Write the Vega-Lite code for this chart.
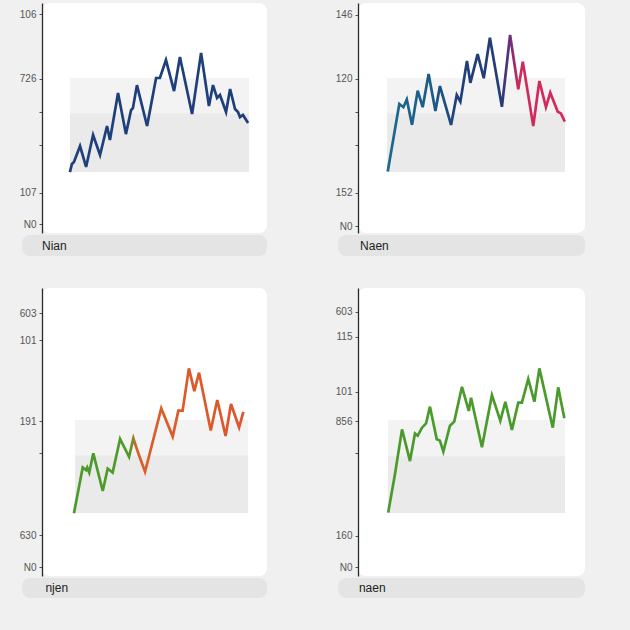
{
  "$schema": "https://vega.github.io/schema/vega-lite/v6.json",
  "background": "#f0f0f0",
  "padding": {"left": 19, "top": 3, "right": 45, "bottom": 32},
  "columns": 2,
  "bounds": "flush",
  "align": "each",
  "spacing": {"row": 55, "column": 91},
  "config": {
    "view": {"stroke": null},
    "axis": {"domainColor": "#2a2a2a", "domainWidth": 1.3, "tickColor": "#555", "tickSize": 3, "labelColor": "#555", "labelFont": "Liberation Sans", "labelFontSize": 10, "labelPadding": 3, "grid": false, "title": null, "labelOverlap": false}
  },
  "concat": [
    {
      "width": 225, "height": 230,
      "view": {"fill": "white", "stroke": null, "cornerRadius": 8},
      "encoding": {
        "x": {"field": "t", "type": "quantitative", "scale": {"domain": [0, 100], "nice": false, "zero": false}, "axis": null},
        "y": {"field": "v", "type": "quantitative", "scale": {"domain": [0, 100], "nice": false, "zero": false},
          "axis": {"values": [95.2, 67, 52.6, 38.3, 17.4, 3.9], "labelExpr": "datum.value == 95.2 ? '106' : datum.value == 67 ? '726' : datum.value == 17.4 ? '107' : datum.value == 3.9 ? 'N0' : ''"}}
      },
      "layer": [
        {"data": {"values": [{"t": 12.4, "t2": 92, "v": 52.2, "v2": 67.4, "tone": "upper"}, {"t": 12.4, "t2": 92, "v": 26.5, "v2": 52.2, "tone": "lower"}]},
         "mark": "rect",
         "encoding": {"x2": {"field": "t2"}, "y2": {"field": "v2"}, "color": {"field": "tone", "type": "nominal", "scale": {"domain": ["upper", "lower"], "range": ["#f3f3f3", "#eaeaea"]}, "legend": null}}},
        {"data": {"values": [{"t": 12.4, "t2": 92, "v": 52.2, "kind": "edge"}, {"t": 12.4, "t2": 92, "v": 37.4, "kind": "mid"}]},
         "mark": {"type": "rule", "strokeWidth": 1},
         "encoding": {"x2": {"field": "t2"}, "color": {"field": "kind", "type": "nominal", "scale": {"domain": ["edge", "mid"], "range": ["#fbfbfb", "#f4f4f4"]}, "legend": null}}},
        {"data": {"values": [{"t": -8.9, "t2": 100, "v": -0.9, "v2": -10}]},
         "mark": {"type": "rect", "color": "#e4e4e4", "cornerRadius": 8},
         "encoding": {"x2": {"field": "t2"}, "y2": {"field": "v2"}}},
        {"data": {"values": [{"t": 0, "v": -5.65, "label": "Nian"}]},
         "mark": {"type": "text", "align": "left", "baseline": "middle", "font": "Liberation Sans", "fontSize": 12, "color": "#222"},
         "encoding": {"text": {"field": "label"}}},
        {"data": {"values": [
          {"t": 12.4, "v": 26.5}, {"t": 13.3, "v": 30.0}, {"t": 14.2, "v": 30.9}, {"t": 16.9, "v": 37.8}, {"t": 19.6, "v": 28.7},
          {"t": 22.7, "v": 42.6}, {"t": 25.8, "v": 33.9}, {"t": 28.9, "v": 46.5}, {"t": 30.2, "v": 40.4}, {"t": 33.8, "v": 60.9},
          {"t": 37.3, "v": 43.0}, {"t": 39.6, "v": 53.5}, {"t": 40.4, "v": 54.3}, {"t": 42.2, "v": 64.3}, {"t": 46.7, "v": 46.5},
          {"t": 50.7, "v": 67.4}, {"t": 52.4, "v": 67.4}, {"t": 55.1, "v": 75.2}, {"t": 58.7, "v": 61.7}, {"t": 61.3, "v": 76.5},
          {"t": 66.7, "v": 51.7}, {"t": 70.7, "v": 78.3}, {"t": 74.2, "v": 55.2}, {"t": 76.0, "v": 64.3}, {"t": 77.8, "v": 58.7},
          {"t": 79.1, "v": 60.0}, {"t": 81.8, "v": 52.6}, {"t": 83.6, "v": 62.6}, {"t": 85.8, "v": 53.9}, {"t": 87.1, "v": 52.6},
          {"t": 88.0, "v": 50.4}, {"t": 89.3, "v": 51.3}, {"t": 91.6, "v": 47.8}]},
         "mark": {"type": "line", "color": "#1e3f7a", "strokeWidth": 2.7, "strokeJoin": "miter"},
         "encoding": {}}
      ]
    },
    {
      "width": 227, "height": 230,
      "view": {"fill": "white", "stroke": null, "cornerRadius": 8},
      "encoding": {
        "x": {"field": "t", "type": "quantitative", "scale": {"domain": [0, 100], "nice": false, "zero": false}, "axis": null},
        "y": {"field": "v", "type": "quantitative", "scale": {"domain": [0, 100], "nice": false, "zero": false},
          "axis": {"values": [94.8, 67, 52.6, 38.3, 17.4, 3], "labelExpr": "datum.value == 94.8 ? '146' : datum.value == 67 ? '120' : datum.value == 17.4 ? '152' : datum.value == 3 ? 'N0' : ''"}}
      },
      "layer": [
        {"data": {"values": [{"t": 12.8, "t2": 91.2, "v": 52.2, "v2": 67.4, "tone": "upper"}, {"t": 12.8, "t2": 91.2, "v": 26.5, "v2": 52.2, "tone": "lower"}]},
         "mark": "rect",
         "encoding": {"x2": {"field": "t2"}, "y2": {"field": "v2"}, "color": {"field": "tone", "type": "nominal", "scale": {"domain": ["upper", "lower"], "range": ["#f3f3f3", "#eaeaea"]}, "legend": null}}},
        {"data": {"values": [{"t": 12.8, "t2": 91.2, "v": 52.2, "kind": "edge"}, {"t": 12.8, "t2": 91.2, "v": 37.4, "kind": "mid"}]},
         "mark": {"type": "rule", "strokeWidth": 1},
         "encoding": {"x2": {"field": "t2"}, "color": {"field": "kind", "type": "nominal", "scale": {"domain": ["edge", "mid"], "range": ["#fbfbfb", "#f4f4f4"]}, "legend": null}}},
        {"data": {"values": [{"t": -8.8, "t2": 100, "v": -0.9, "v2": -10}]},
         "mark": {"type": "rect", "color": "#e4e4e4", "cornerRadius": 8},
         "encoding": {"x2": {"field": "t2"}, "y2": {"field": "v2"}}},
        {"data": {"values": [{"t": 0.9, "v": -5.65, "label": "Naen"}]},
         "mark": {"type": "text", "align": "left", "baseline": "middle", "font": "Liberation Sans", "fontSize": 12, "color": "#222"},
         "encoding": {"text": {"field": "label"}}},
        {"data": {"values": [
          {"t": 13.1, "v": 26.7}, {"t": 18.2, "v": 56.1}, {"t": 20.0, "v": 54.7}, {"t": 21.5, "v": 58.1}, {"t": 23.8, "v": 47.0},
          {"t": 26.3, "v": 61.9}, {"t": 28.5, "v": 54.7}, {"t": 31.1, "v": 69.1}, {"t": 34.1, "v": 53.0}, {"t": 36.1, "v": 63.9},
          {"t": 41.0, "v": 47.0}, {"t": 43.5, "v": 60.0}, {"t": 45.1, "v": 57.1}, {"t": 48.0, "v": 74.8}, {"t": 49.5, "v": 65.3},
          {"t": 52.7, "v": 77.8}, {"t": 55.4, "v": 67.3}, {"t": 58.1, "v": 84.9}, {"t": 63.4, "v": 54.9}, {"t": 67.0, "v": 86.1},
          {"t": 70.6, "v": 62.5}, {"t": 72.6, "v": 74.5}, {"t": 77.2, "v": 46.5}, {"t": 79.9, "v": 66.1}, {"t": 82.8, "v": 54.7},
          {"t": 84.7, "v": 61.0}, {"t": 88.0, "v": 52.7}, {"t": 89.4, "v": 52.0}, {"t": 91.1, "v": 48.4}]},
         "mark": {"type": "line", "strokeWidth": 2.7, "strokeJoin": "miter",
           "stroke": {"gradient": "linear", "x1": 0, "y1": 0, "x2": 1, "y2": 0,
             "stops": [{"offset": 0, "color": "#1b6b8d"}, {"offset": 0.25, "color": "#1d5a88"}, {"offset": 0.4, "color": "#223f7a"}, {"offset": 0.64, "color": "#243c78"}, {"offset": 0.69, "color": "#6a2f7e"}, {"offset": 0.74, "color": "#cf2a5a"}, {"offset": 1, "color": "#d42b5b"}]}},
         "encoding": {}}
      ]
    },
    {
      "width": 225, "height": 288,
      "view": {"fill": "white", "stroke": null, "cornerRadius": 8},
      "encoding": {
        "x": {"field": "t", "type": "quantitative", "scale": {"domain": [0, 100], "nice": false, "zero": false}, "axis": null},
        "y": {"field": "v", "type": "quantitative", "scale": {"domain": [0, 100], "nice": false, "zero": false},
          "axis": {"values": [91.3, 81.9, 53.8, 42.7, 14.2, 3.1], "labelExpr": "datum.value == 91.3 ? '603' : datum.value == 81.9 ? '101' : datum.value == 53.8 ? '191' : datum.value == 14.2 ? '630' : datum.value == 3.1 ? 'N0' : ''"}}
      },
      "layer": [
        {"data": {"values": [{"t": 14.7, "t2": 91.6, "v": 42.0, "v2": 54.2, "tone": "upper"}, {"t": 14.7, "t2": 91.6, "v": 21.9, "v2": 42.0, "tone": "lower"}]},
         "mark": "rect",
         "encoding": {"x2": {"field": "t2"}, "y2": {"field": "v2"}, "color": {"field": "tone", "type": "nominal", "scale": {"domain": ["upper", "lower"], "range": ["#f0f0f0", "#eaeaea"]}, "legend": null}}},
        {"data": {"values": [{"t": 14.7, "t2": 91.6, "v": 42.0, "kind": "edge"}, {"t": 14.7, "t2": 91.6, "v": 30.6, "kind": "mid"}]},
         "mark": {"type": "rule", "strokeWidth": 1},
         "encoding": {"x2": {"field": "t2"}, "color": {"field": "kind", "type": "nominal", "scale": {"domain": ["edge", "mid"], "range": ["#fbfbfb", "#f4f4f4"]}, "legend": null}}},
        {"data": {"values": [{"t": -8.9, "t2": 100, "v": -0.7, "v2": -7.6}]},
         "mark": {"type": "rect", "color": "#e4e4e4", "cornerRadius": 8},
         "encoding": {"x2": {"field": "t2"}, "y2": {"field": "v2"}}},
        {"data": {"values": [{"t": 1.5, "v": -4.2, "label": "njen"}]},
         "mark": {"type": "text", "align": "left", "baseline": "middle", "font": "Liberation Sans", "fontSize": 12, "color": "#222"},
         "encoding": {"text": {"field": "label"}}},
        {"data": {"values": [
          {"t": 14.2, "v": 21.8}, {"t": 18.1, "v": 37.7}, {"t": 19.6, "v": 36.8}, {"t": 20.1, "v": 37.7}, {"t": 21.0, "v": 35.9},
          {"t": 22.8, "v": 42.6}, {"t": 27.0, "v": 29.5}, {"t": 29.2, "v": 37.3}, {"t": 31.4, "v": 35.9}, {"t": 34.7, "v": 47.6},
          {"t": 38.7, "v": 41.4}, {"t": 40.6, "v": 47.8}, {"t": 42.8, "v": 42.6}, {"t": 45.8, "v": 36.2}, {"t": 53.0, "v": 58.2},
          {"t": 58.1, "v": 48.4}, {"t": 60.6, "v": 57.4}, {"t": 62.5, "v": 57.4}, {"t": 65.3, "v": 72.1}, {"t": 67.7, "v": 64.2},
          {"t": 69.8, "v": 70.6}, {"t": 75.0, "v": 50.5}, {"t": 77.9, "v": 61.1}, {"t": 81.6, "v": 48.6}, {"t": 84.0, "v": 59.7},
          {"t": 87.6, "v": 51.6}, {"t": 89.5, "v": 57.0}]},
         "mark": {"type": "line", "strokeWidth": 2.7, "strokeJoin": "miter",
           "stroke": {"gradient": "linear", "x1": 0, "y1": 0, "x2": 1, "y2": 0,
             "stops": [{"offset": 0, "color": "#4a9a2a"}, {"offset": 0.33, "color": "#4f9b2a"}, {"offset": 0.37, "color": "#d9602a"}, {"offset": 1, "color": "#e0542a"}]}},
         "encoding": {}}
      ]
    },
    {
      "width": 227, "height": 288,
      "view": {"fill": "white", "stroke": null, "cornerRadius": 8},
      "encoding": {
        "x": {"field": "t", "type": "quantitative", "scale": {"domain": [0, 100], "nice": false, "zero": false}, "axis": null},
        "y": {"field": "v", "type": "quantitative", "scale": {"domain": [0, 100], "nice": false, "zero": false},
          "axis": {"values": [91.7, 83, 63.9, 53.8, 42.7, 13.9, 3.1], "labelExpr": "datum.value == 91.7 ? '603' : datum.value == 83 ? '115' : datum.value == 63.9 ? '101' : datum.value == 53.8 ? '856' : datum.value == 13.9 ? '160' : datum.value == 3.1 ? 'N0' : ''"}}
      },
      "layer": [
        {"data": {"values": [{"t": 13.2, "t2": 91.2, "v": 41.7, "v2": 54.2, "tone": "upper"}, {"t": 13.2, "t2": 91.2, "v": 21.9, "v2": 41.7, "tone": "lower"}]},
         "mark": "rect",
         "encoding": {"x2": {"field": "t2"}, "y2": {"field": "v2"}, "color": {"field": "tone", "type": "nominal", "scale": {"domain": ["upper", "lower"], "range": ["#f0f0f0", "#eaeaea"]}, "legend": null}}},
        {"data": {"values": [{"t": 13.2, "t2": 91.2, "v": 41.7, "kind": "edge"}, {"t": 13.2, "t2": 91.2, "v": 30.6, "kind": "mid"}]},
         "mark": {"type": "rule", "strokeWidth": 1},
         "encoding": {"x2": {"field": "t2"}, "color": {"field": "kind", "type": "nominal", "scale": {"domain": ["edge", "mid"], "range": ["#fbfbfb", "#f4f4f4"]}, "legend": null}}},
        {"data": {"values": [{"t": -8.8, "t2": 100, "v": -0.7, "v2": -7.6}]},
         "mark": {"type": "rect", "color": "#e4e4e4", "cornerRadius": 8},
         "encoding": {"x2": {"field": "t2"}, "y2": {"field": "v2"}}},
        {"data": {"values": [{"t": 0.4, "v": -4.2, "label": "naen"}]},
         "mark": {"type": "text", "align": "left", "baseline": "middle", "font": "Liberation Sans", "fontSize": 12, "color": "#222"},
         "encoding": {"text": {"field": "label"}}},
        {"data": {"values": [
          {"t": 13.3, "v": 22.0}, {"t": 16.3, "v": 35.4}, {"t": 19.4, "v": 50.9}, {"t": 22.9, "v": 39.9}, {"t": 25.1, "v": 49.5},
          {"t": 26.3, "v": 48.7}, {"t": 28.2, "v": 51.5}, {"t": 30.0, "v": 53.0}, {"t": 31.7, "v": 58.8}, {"t": 34.7, "v": 47.5},
          {"t": 36.1, "v": 47.0}, {"t": 37.6, "v": 43.2}, {"t": 40.5, "v": 52.2}, {"t": 42.4, "v": 53.6}, {"t": 45.8, "v": 65.7},
          {"t": 48.8, "v": 57.3}, {"t": 49.8, "v": 61.9}, {"t": 54.6, "v": 44.7}, {"t": 59.0, "v": 62.8}, {"t": 62.7, "v": 53.9},
          {"t": 64.9, "v": 60.5}, {"t": 67.8, "v": 50.7}, {"t": 70.6, "v": 60.2}, {"t": 72.2, "v": 60.2}, {"t": 75.0, "v": 68.4},
          {"t": 77.7, "v": 60.5}, {"t": 79.9, "v": 72.1}, {"t": 85.8, "v": 51.5}, {"t": 88.2, "v": 65.5}, {"t": 90.9, "v": 54.8}]},
         "mark": {"type": "line", "color": "#4a9a2c", "strokeWidth": 2.7, "strokeJoin": "miter"},
         "encoding": {}}
      ]
    }
  ]
}
